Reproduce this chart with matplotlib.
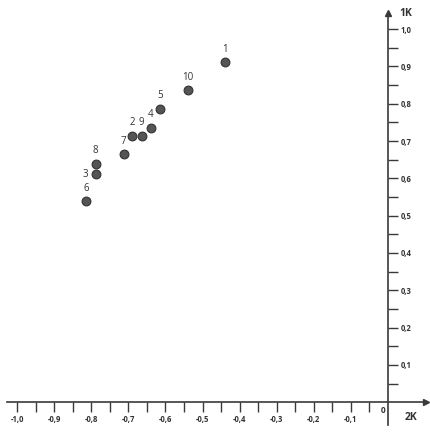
import numpy as np
import matplotlib.pyplot as plt
from matplotlib.ticker import FixedLocator

# 데이터
labels = ['1', '2', '3', '4', '5', '6', '7', '8', '9', '10']
x_vals = [-0.439, -0.689, -0.788, -0.640, -0.615, -0.813, -0.713, -0.788, -0.664, -0.540]
y_vals = [0.911, 0.714, 0.611, 0.736, 0.786, 0.538, 0.664, 0.638, 0.714, 0.836]

x_ticks = [-1.0, -0.9, -0.8, -0.7, -0.6, -0.5, -0.4, -0.3, -0.2, -0.1]
y_ticks = [0.1, 0.2, 0.3, 0.4, 0.5, 0.6, 0.7, 0.8, 0.9, 1.0]

line_col = '#3a3a3a'
txt_col = '#333333'
plt.rcParams['font.family'] = ['Open Sans', 'DejaVu Sans']

fig = plt.figure(figsize=(4.31, 4.32), dpi=100)
ax = fig.add_axes([0, 0, 1, 1])
ax.set_xlim(-1.046, 0.116)
ax.set_ylim(-0.080, 1.078)

# 축 설정
for s in ['top', 'left']:
    ax.spines[s].set_visible(False)
ax.spines['bottom'].set_position(('data', 0))
ax.spines['right'].set_position(('data', 0))
ax.spines['bottom'].set_bounds(-1.027, 0.10)
ax.spines['right'].set_bounds(-0.062, 1.04)
for s in ['bottom', 'right']:
    ax.spines[s].set_color(line_col)
    ax.spines[s].set_linewidth(1.2)

ax.yaxis.tick_right()
ax.xaxis.set_major_locator(FixedLocator(x_ticks))
ax.xaxis.set_minor_locator(FixedLocator(np.array(x_ticks) + 0.05))
ax.yaxis.set_major_locator(FixedLocator(y_ticks))
ax.yaxis.set_minor_locator(FixedLocator(np.array(y_ticks) - 0.05))
ax.set_xticklabels([f'{v:.1f}'.replace('.', ',') for v in x_ticks])
ax.set_yticklabels([f'{v:.1f}'.replace('.', ',') for v in y_ticks])
ax.tick_params(axis='both', which='both', direction='out', length=7, width=1,
               color=line_col, labelsize=5.5, labelcolor=txt_col, pad=2)
for lab in ax.get_xticklabels() + ax.get_yticklabels():
    lab.set_fontweight('bold')

# 화살표
ax.plot(0.103, 0, '>', color=line_col, markersize=5, clip_on=False)
ax.plot(0, 1.043, '^', color=line_col, markersize=5, clip_on=False)
ax.text(0.03, 1.043, '1K', fontsize=7.5, fontweight='bold', color=txt_col, ha='left', va='center')
ax.text(0.045, -0.042, '2K', fontsize=7.5, fontweight='bold', color=txt_col, ha='left', va='center')
ax.text(-0.006, -0.022, '0', fontsize=6, fontweight='bold', color=txt_col, ha='right', va='center')

# 점
ax.scatter(x_vals, y_vals, s=40, color='#555555', edgecolor='#333333', linewidth=0.8, zorder=3)
for lab, x, y in zip(labels, x_vals, y_vals):
    if lab == '3':
        ax.annotate(lab, (x, y), xytext=(-7.5, 0), textcoords='offset points',
                    ha='center', va='center', fontsize=7, color=txt_col)
    else:
        ax.annotate(lab, (x, y), xytext=(0, 9.5), textcoords='offset points',
                    ha='center', va='center', fontsize=7, color=txt_col)

fig.savefig('out.png', dpi=100)
